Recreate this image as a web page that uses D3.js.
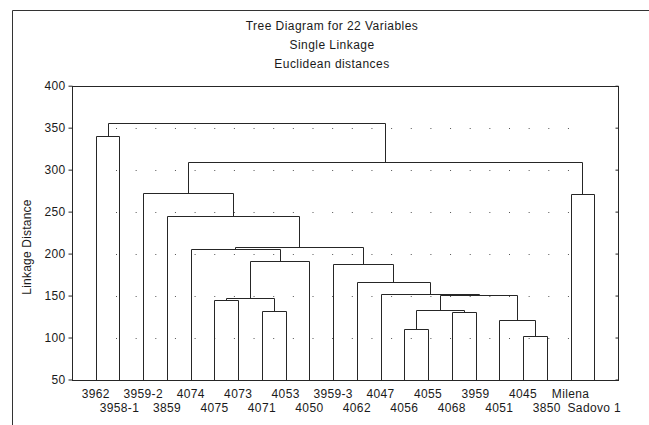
<!DOCTYPE html>
<html>
<head>
<meta charset="utf-8">
<script src="https://cdn.jsdelivr.net/npm/d3@7"></script>
<style>
  body { margin: 0; background: #fff; }
  svg text { font-family: "Liberation Sans", Arial, sans-serif; fill: #1a1a1a; }
</style>
</head>
<body>
<svg id="chart" width="649" height="425"></svg>
<script>
(function () {

    var titles = ["Tree Diagram for 22 Variables", "Single Linkage", "Euclidean distances"],
        yLabel = "Linkage Distance",
        yTicks = [50, 100, 150, 200, 250, 300, 350, 400],
        gridTicks = [100, 150, 200, 250, 300, 350];

    // leaf order along the x axis
    var leaves = ["3962", "3958-1", "3959-2", "3859", "4074", "4075", "4073", "4071",
        "4053", "4050", "3959-3", "4062", "4047", "4056", "4055", "4068", "3959",
        "4051", "4045", "3850", "Milena", "Sadovo 1"];

    // joins: [left, right, linkage distance]; "cN" is the N-th join
    var merges = [
        ["4045", "3850", 101.8],      // c0
        ["4056", "4055", 109.8],      // c1
        ["4051", "c0", 120.9],        // c2
        ["4068", "3959", 130.8],      // c3
        ["4071", "4053", 132.0],      // c4
        ["c1", "c3", 133.1],          // c5
        ["4075", "4073", 144.3],      // c6
        ["c6", "c4", 147.4],          // c7
        ["c5", "c2", 151.0],          // c8
        ["4047", "c8", 152.2],        // c9
        ["4062", "c9", 165.8],        // c10
        ["3959-3", "c10", 187.2],     // c11
        ["c7", "4050", 191.2],        // c12
        ["4074", "c12", 205.5],       // c13
        ["c13", "c11", 207.5],        // c14
        ["3859", "c14", 244.4],       // c15
        ["Milena", "Sadovo 1", 271.3],// c16
        ["3959-2", "c15", 272.2],     // c17
        ["c17", "c16", 309.5],        // c18
        ["3962", "3958-1", 340.1],    // c19
        ["c19", "c18", 355.9]         // c20
    ];

    var svg = d3.select("#chart"),
        left = 72, right = 618, top = 85.7, bottom = 379.5,
        ink = "#262626";

    var x = d3.scalePoint().domain(leaves).range([left, right]).padding(1),
        y = d3.scaleLinear().domain([50, 400]).range([bottom, top]);

    // outer frame (runs off the right and bottom edge)
    svg.append("path")
        .attr("d", "M12.5,425V10.5H649")
        .attr("fill", "none")
        .attr("stroke", "#333");

    // titles
    svg.selectAll("text.title")
        .data(titles)
        .enter().append("text")
            .attr("class", "title")
            .attr("x", 332)
            .attr("y", function (d, i) { return 30 + i * 19; })
            .attr("text-anchor", "middle")
            .style("font-size", "12px")
            .style("letter-spacing", "0.45px")
            .text(function (d) { return d; });

    // dotted grid
    svg.append("g")
        .selectAll("line")
        .data(gridTicks)
        .enter().append("line")
            .attr("x1", 116)
            .attr("x2", 570)
            .attr("y1", function (d) { return Math.round(y(d)) + 0.5; })
            .attr("y2", function (d) { return Math.round(y(d)) + 0.5; })
            .attr("stroke", "#555")
            .attr("stroke-dasharray", "1 18.65");

    // plot frame
    svg.append("rect")
        .attr("x", left + 0.5)
        .attr("y", Math.round(top) + 0.5)
        .attr("width", right - left)
        .attr("height", Math.round(bottom) - Math.round(top))
        .attr("fill", "none")
        .attr("stroke", ink);

    // left axis
    var yAxis = svg.append("g")
        .attr("transform", "translate(" + (left + 0.5) + ",0)")
        .call(d3.axisLeft(y).tickValues(yTicks).tickSize(4).tickSizeOuter(0).tickPadding(3));
    yAxis.select(".domain").remove();
    yAxis.selectAll("line").attr("stroke", ink);
    yAxis.selectAll("text")
        .attr("fill", "#1a1a1a")
        .style("font-family", "Liberation Sans, Arial, sans-serif")
        .style("font-size", "12px")
        .style("letter-spacing", "0.3px");

    // right axis, ticks pointing in
    var yAxisR = svg.append("g")
        .attr("transform", "translate(" + (right + 0.5) + ",0)")
        .call(d3.axisRight(y).tickValues(yTicks).tickSize(-3).tickSizeOuter(0).tickFormat(""));
    yAxisR.select(".domain").remove();
    yAxisR.selectAll("line").attr("stroke", ink);

    svg.append("text")
        .attr("transform", "translate(31,247) rotate(-90)")
        .attr("text-anchor", "middle")
        .style("font-size", "12px")
        .style("letter-spacing", "0.2px")
        .text(yLabel);

    // build node positions
    var nodes = {};
    leaves.forEach(function (name) {
        nodes[name] = { x: x(name), h: 50 };
    });
    var links = [];
    merges.forEach(function (m, i) {
        var a = nodes[m[0]], b = nodes[m[1]];
        nodes["c" + i] = { x: (a.x + b.x) / 2, h: m[2] };
        links.push({ a: a, b: b, h: m[2] });
    });

    function px(v) { return Math.round(v) + 0.5; }

    svg.append("g")
        .selectAll("path")
        .data(links)
        .enter().append("path")
            .attr("fill", "none")
            .attr("stroke", ink)
            .attr("d", function (d) {
                return "M" + px(d.a.x) + "," + px(y(d.a.h)) +
                    "V" + px(y(d.h)) +
                    "H" + px(d.b.x) +
                    "V" + px(y(d.b.h));
            });

    // leaf labels on two staggered rows
    svg.append("g")
        .selectAll("text")
        .data(leaves)
        .enter().append("text")
            .attr("x", function (d) { return x(d); })
            .attr("y", function (d, i) { return i % 2 ? 411.5 : 397.5; })
            .attr("text-anchor", "middle")
            .style("font-size", "12px")
            .style("letter-spacing", "0.35px")
            .text(function (d) { return d; });

}());
</script>
</body>
</html>
